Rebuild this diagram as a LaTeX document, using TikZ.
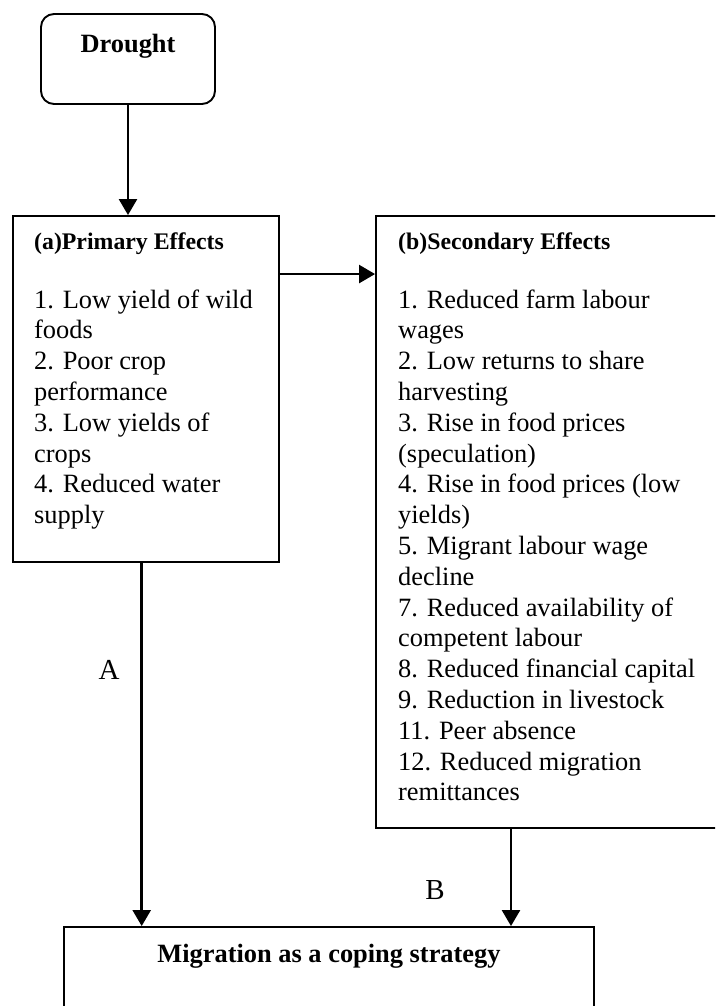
\documentclass[tikz,border=0pt]{standalone}
\usepackage{fontspec}
\setmainfont{Liberation Serif}
\usetikzlibrary{arrows.meta}
\begin{document}
\begin{tikzpicture}[x=1pt,y=-1pt,
  box/.style={draw,line width=1.9pt,inner sep=0pt},
  conn/.style={line width=2.5pt,-{Triangle[length=16pt,width=18pt]}},
  body/.style={inner sep=0pt,anchor=base west,font=\fontsize{26.4}{30.8}\selectfont},
  head/.style={inner sep=0pt,anchor=base west,font=\bfseries\fontsize{23.8}{28}\selectfont},
  title/.style={inner sep=0pt,anchor=base,font=\bfseries\fontsize{26.4}{30.8}\selectfont},
  lab/.style={inner sep=0pt,anchor=base,font=\fontsize{29}{33}\selectfont}]
\useasboundingbox (0,0) rectangle (715,1006);
\clip (0,0) rectangle (715,1006);
% boxes
\node[box,rounded corners=13pt,minimum width=174pt,minimum height=90pt] (drought) at (128,59) {};
\node[box,minimum width=266pt,minimum height=346pt] (primary) at (146,389) {};
\node[box,minimum width=384pt,minimum height=612pt] (secondary) at (568,522) {};
\node[box,minimum width=530pt,minimum height=133pt] (bottom) at (329,993.5) {};
% titles
\node[title] (dtext) at (128,53) {Drought};
\node[title] (mtext) at (329,962) {Migration as a coping strategy};
% primary text
\node[head] (phead) at (34,249) {(a)Primary Effects};
\foreach \t [count=\i] in {{1. Low yield of wild},{foods},{2. Poor crop},{performance},{3. Low yields of},{crops},{4. Reduced water},{supply}}
  \node[body] (p\i) at (34,{308+30.8*(\i-1)}) {\t};
% secondary text
\node[head] (shead) at (398,249) {(b)Secondary Effects};
\foreach \t [count=\i] in {{1. Reduced farm labour},{wages},{2. Low returns to share},{harvesting},{3. Rise in food prices},{(speculation)},{4. Rise in food prices (low},{yields)},{5. Migrant labour wage},{decline},{7. Reduced availability of},{competent labour},{8. Reduced financial capital},{9. Reduction in livestock},{11. Peer absence},{12. Reduced migration},{remittances}}
  \node[body] (s\i) at (398,{308+30.8*(\i-1)}) {\t};
% connectors
\draw[conn] (drought.south) -- (drought.south |- primary.north);
\draw[conn] ([yshift=-59pt]primary.north east) -- ([yshift=-59pt]secondary.north west);
\coordinate (a1) at ([xshift=-4.3pt]primary.south);
\coordinate (b1) at ([xshift=-57pt]secondary.south);
\draw[conn] (a1) -- (a1 |- bottom.north);
\draw[conn] (b1) -- (b1 |- bottom.north);
% labels
\node[lab] (la) at (109,679) {A};
\node[lab] (lb) at (435,899) {B};
\end{tikzpicture}
\end{document}
